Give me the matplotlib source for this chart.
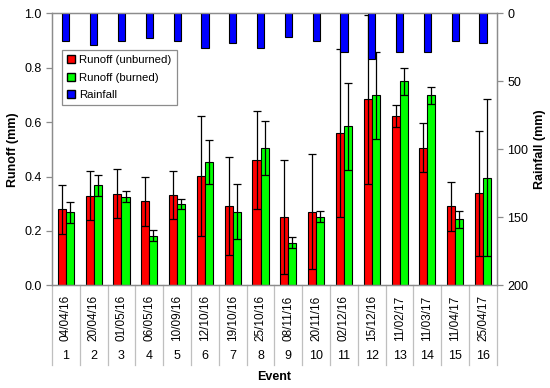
import numpy as np
import matplotlib
matplotlib.use("Agg")
import matplotlib.pyplot as plt
from matplotlib.patches import Patch
import matplotlib.transforms as mtransforms

plt.rcParams['font.family'] = ['Liberation Sans', 'DejaVu Sans']

# data
events = list(range(1, 17))
dates = ["04/04/16", "20/04/16", "01/05/16", "06/05/16", "10/09/16", "12/10/16",
         "19/10/16", "25/10/16", "08/11/16", "20/11/16", "02/12/16", "15/12/16",
         "11/02/17", "11/03/17", "11/04/17", "25/04/17"]
unburned = [0.279, 0.330, 0.336, 0.309, 0.332, 0.403, 0.291, 0.461,
            0.250, 0.271, 0.560, 0.684, 0.623, 0.505, 0.291, 0.338]
unburned_err = [0.09, 0.09, 0.09, 0.09, 0.09, 0.22, 0.18, 0.18,
                0.21, 0.21, 0.31, 0.31, 0.04, 0.09, 0.09, 0.23]
burned = [0.268, 0.367, 0.326, 0.182, 0.298, 0.453, 0.271, 0.505,
          0.156, 0.252, 0.584, 0.698, 0.750, 0.698, 0.242, 0.396]
burned_err = [0.04, 0.04, 0.02, 0.02, 0.018, 0.08, 0.10, 0.10,
              0.02, 0.02, 0.16, 0.16, 0.05, 0.03, 0.03, 0.29]
rainfall = [20.0, 23.3, 20.0, 18.2, 20.0, 25.7, 21.6, 25.7,
            17.2, 20.0, 28.2, 33.6, 28.2, 28.2, 20.1, 22.1]

x = np.arange(len(events))
w = 0.29
gray = "#8c8c8c"

fig = plt.figure(figsize=(5.5, 3.88), dpi=100)
ax = fig.add_axes([0.0945, 0.2647, 0.809, 0.701])
ax2 = ax.twinx()

ax.bar(x - w / 2, unburned, w, color="#ff0000", edgecolor="black", linewidth=0.8, zorder=2)
ax.bar(x + w / 2, burned, w, color="#00ff00", edgecolor="black", linewidth=0.8, zorder=2)
ax.errorbar(x - w / 2, unburned, yerr=unburned_err, fmt="none", ecolor="black",
            elinewidth=0.9, capsize=3, capthick=0.9, zorder=3)
ax.errorbar(x + w / 2, burned, yerr=burned_err, fmt="none", ecolor="black",
            elinewidth=0.9, capsize=3, capthick=0.9, zorder=3)

ax2.bar(x, rainfall, 0.26, color="#0000ff", edgecolor="black", linewidth=0.8)

ax.set_xlim(-0.5, len(events) - 0.5)
ax.set_ylim(0, 1.0)
ax.set_yticks(np.arange(0, 1.01, 0.2))
ax.set_yticklabels([f"{v:.1f}" for v in np.arange(0, 1.01, 0.2)], fontsize=9)
ax2.set_ylim(200, 0)
ax2.set_yticks([0, 50, 100, 150, 200])
ax2.set_yticklabels(["0", "50", "100", "150", "200"], fontsize=9)

for a in (ax, ax2):
    for s in a.spines.values():
        s.set_color(gray)
        s.set_linewidth(0.9)
    a.tick_params(axis="y", colors=gray, labelcolor="black", length=4, width=0.9)
ax.set_xticks([])

ax.set_ylabel("Runoff (mm)", fontsize=9, fontweight="bold", labelpad=4)
ax2.set_ylabel("Rainfall (mm)", fontsize=9, fontweight="bold", labelpad=4)

# two-level category axis
trans = mtransforms.blended_transform_factory(ax.transData, ax.transAxes)
for b in np.arange(-0.5, len(events), 1.0):
    ax.plot([b, b], [0, -0.293], color="#bfbfbf", linewidth=0.9,
            transform=trans, clip_on=False)
for i in x:
    ax.text(i, -0.12, dates[i], rotation=90, ha="center", va="center",
            fontsize=8.5, transform=trans)
    ax.text(i, -0.259, str(events[i]), ha="center", va="center",
            fontsize=9, transform=trans)
ax.text(0.5, -0.337, "Event", ha="center", va="center", fontsize=9,
        fontweight="bold", transform=ax.transAxes)

handles = [Patch(facecolor="#ff0000", edgecolor="black", label="Runoff (unburned)"),
           Patch(facecolor="#00ff00", edgecolor="black", label="Runoff (burned)"),
           Patch(facecolor="#0000ff", edgecolor="black", label="Rainfall")]
leg = ax2.legend(handles=handles, loc="upper left", bbox_to_anchor=(0.022, 0.865),
                 borderaxespad=0, fontsize=8.2, handlelength=0.7, handleheight=0.7,
                 handletextpad=0.4, labelspacing=0.65, fancybox=False,
                 edgecolor=gray, framealpha=1, borderpad=0.45)
leg.get_frame().set_linewidth(0.9)

fig.savefig("out.png", dpi=100)
